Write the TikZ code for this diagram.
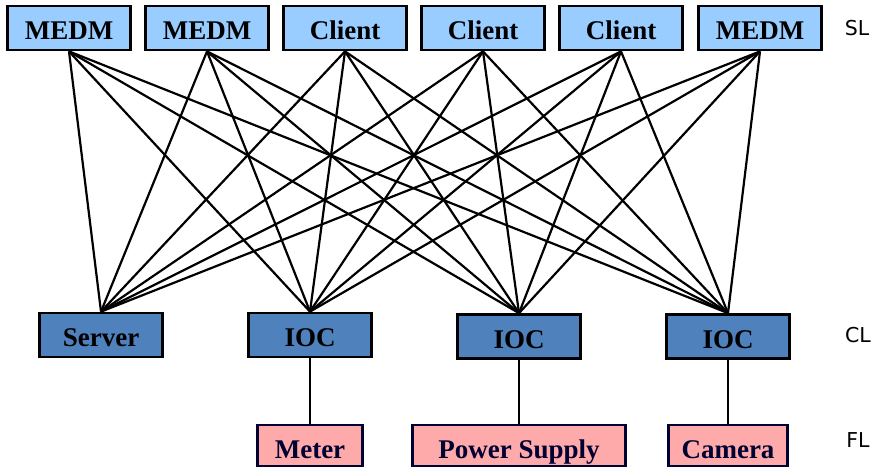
\documentclass[tikz,border=0pt]{standalone}
\usepackage{fontspec}
\setmainfont{Liberation Serif}
\newfontfamily\layerfont{DejaVu Sans}
\usepackage{tikz}
\usetikzlibrary{shapes.geometric, arrows}
\definecolor{slblue}{RGB}{153,204,255}
\definecolor{clblue}{RGB}{79,129,189}
\definecolor{flpink}{RGB}{255,170,170}
\definecolor{flnavy}{RGB}{0,0,50}
\tikzstyle{slbox} = [rectangle,
					 minimum width=123pt,
					 minimum height=44pt,
					 inner sep=0pt,
					 text height=26pt,
					 text depth=3pt,
					 text centered,
					 draw=black,
					 line width=2.8pt,
					 fill=slblue,
					 font=\fontsize{27}{30}\selectfont\bfseries,
					]
\tikzstyle{clbox} = [slbox,
					 fill=clblue,
					]
\tikzstyle{flbox} = [rectangle,
					 minimum height=41pt,
					 inner sep=0pt,
					 text height=28pt,
					 text depth=3pt,
					 text centered,
					 draw=flnavy,
					 text=flnavy,
					 line width=2.8pt,
					 fill=flpink,
					 font=\fontsize{27}{30}\selectfont\bfseries,
					]
\tikzstyle{layer} = [font=\layerfont\fontsize{20.5}{24}\selectfont]
\tikzstyle{link} = [line width=2.2pt]

\begin{document}
\begin{tikzpicture}[node distance=138pt, x=1pt, y=1pt]
\useasboundingbox (0,0) rectangle (875,-467);

\node (medm_a) [slbox] at (69,-28) {MEDM};
\node (medm_b) [slbox, right of =medm_a] {MEDM};
\node (client_a) [slbox, right of =medm_b] {Client};
\node (client_b) [slbox, right of =client_a] {Client};
\node (client_c) [slbox, right of =client_b] {Client};
\node (medm_c) [slbox, right of =client_c, xshift=1pt] {MEDM};

\node (server) [clbox] at (101,-335) {Server};
\node (ioc_a) [clbox, right of =server, xshift=71pt] {IOC};
\node (ioc_b) [clbox, right of =ioc_a, xshift=71pt, yshift=-1.5pt] {IOC};
\node (ioc_c) [clbox, right of =ioc_b, xshift=71pt] {IOC};

\node (meter) [flbox, minimum width=105pt, below of =ioc_a, yshift=27.5pt] {Meter};
\node (power) [flbox, minimum width=213pt, below of =ioc_b, yshift=29pt] {Power Supply};
\node (camera) [flbox, minimum width=119pt, below of =ioc_c, yshift=29pt] {Camera};

\node (sl_lbl) [layer] at (857,-28) {SL};
\node (cl_lbl) [layer] at (858,-335) {CL};
\node (fl_lbl) [layer] at (858,-440) {FL};

\draw [link] (medm_a.south) -- (server.north);
\draw [link] (medm_a.south) -- (ioc_a.north);
\draw [link] (medm_a.south) -- (ioc_b.north);
\draw [link] (medm_a.south) -- (ioc_c.north);
\draw [link] (medm_b.south) -- (server.north);
\draw [link] (medm_b.south) -- (ioc_a.north);
\draw [link] (medm_b.south) -- (ioc_b.north);
\draw [link] (medm_b.south) -- (ioc_c.north);
\draw [link] (client_a.south) -- (server.north);
\draw [link] (client_a.south) -- (ioc_a.north);
\draw [link] (client_a.south) -- (ioc_b.north);
\draw [link] (client_a.south) -- (ioc_c.north);
\draw [link] (client_b.south) -- (server.north);
\draw [link] (client_b.south) -- (ioc_a.north);
\draw [link] (client_b.south) -- (ioc_b.north);
\draw [link] (client_b.south) -- (ioc_c.north);
\draw [link] (client_c.south) -- (server.north);
\draw [link] (client_c.south) -- (ioc_a.north);
\draw [link] (client_c.south) -- (ioc_b.north);
\draw [link] (client_c.south) -- (ioc_c.north);
\draw [link] (medm_c.south) -- (server.north);
\draw [link] (medm_c.south) -- (ioc_a.north);
\draw [link] (medm_c.south) -- (ioc_b.north);
\draw [link] (medm_c.south) -- (ioc_c.north);

\draw [link] (ioc_a) -- (meter);
\draw [link] (ioc_b) -- (power);
\draw [link] (ioc_c) -- (camera);

\end{tikzpicture}
\end{document}
